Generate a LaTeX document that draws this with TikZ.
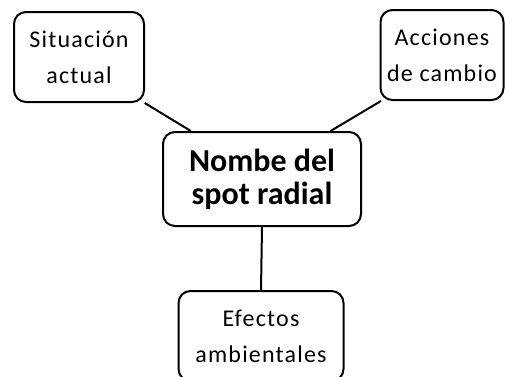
\documentclass[tikz,border=0pt]{standalone}
\usepackage{fontspec}
\setmainfont{Carlito}
\tikzset{
  idea/.style={draw, line width=2pt, rounded corners=12pt, align=center, inner sep=0pt,
    font=\fontsize{24}{36}\selectfont\addfontfeature{LetterSpace=5}},
  tema/.style={idea, font=\fontsize{32}{33}\selectfont\bfseries},
  enlace/.style={line width=2pt}
}
\begin{document}
\begin{tikzpicture}[x=1pt, y=1pt]
  \useasboundingbox (0,0) rectangle (505,376);
  \clip (0,0) rectangle (505,376);
  \node [idea, minimum width=130pt, minimum height=90pt] (sit) at (79,319) {Situación\\actual};
  \node [idea, minimum width=123pt, minimum height=90pt] (acc) at (442,321) {Acciones\\de cambio};
  \node [tema, minimum width=198pt, minimum height=94pt] (nom) at (262,197) {Nombe del\\spot radial};
  \node [idea, minimum width=165pt, minimum height=90pt] (efe) at (261,40) {Efectos\\ambientales};
  \draw [enlace] (sit.-35) -- (nom.146);
  \draw [enlace] (acc.217) -- (nom.35);
  \draw [enlace] (nom.south) -- (efe.north);
\end{tikzpicture}
\end{document}
